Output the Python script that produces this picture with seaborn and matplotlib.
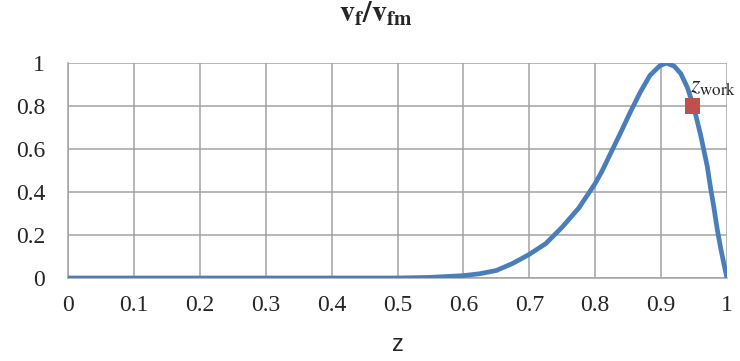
import matplotlib

matplotlib.use("Agg")
import matplotlib.pyplot as plt
import pandas as pd
import seaborn as sns

# curve values
z_vals = [0, 0.1, 0.2, 0.3, 0.4, 0.5, 0.55, 0.6, 0.625, 0.65, 0.675, 0.7,
          0.725, 0.75, 0.775, 0.8, 0.81, 0.825, 0.84, 0.853, 0.868, 0.883,
          0.898, 0.908, 0.92, 0.93, 0.94, 0.95, 0.96, 0.97, 0.975, 0.98,
          0.985, 0.99, 0.995, 1.0]
v_vals = [0, 0, 0, 0, 0, 0.0, 0.003, 0.011, 0.02, 0.035, 0.068, 0.11,
          0.16, 0.237, 0.325, 0.44, 0.495, 0.59, 0.685, 0.77, 0.862, 0.942,
          0.987, 1.0, 0.985, 0.95, 0.885, 0.79, 0.665, 0.52, 0.42, 0.33,
          0.23, 0.145, 0.07, 0.0]

z_work = [0.948]
v_work = [0.80]

x_ticks = [0, 0.1, 0.2, 0.3, 0.4, 0.5, 0.6, 0.7, 0.8, 0.9, 1]
x_labels = ["0", "0.1", "0.2", "0.3", "0.4", "0.5", "0.6", "0.7", "0.8", "0.9", "1"]
y_ticks = [0, 0.2, 0.4, 0.6, 0.8, 1]
y_labels = ["0", "0.2", "0.4", "0.6", "0.8", "1"]

sns.set_style("white")
plt.rcParams["font.family"] = ["Liberation Serif", "DejaVu Serif"]
plt.rcParams["mathtext.fontset"] = "stix"

grid_col = "#a3a3a3"
df = pd.DataFrame({"z": z_vals, "v": v_vals})
work = pd.DataFrame({"z": z_work, "v": v_work})

fig = plt.figure(figsize=(7.4, 3.61), dpi=100)
ax = fig.add_axes([68 / 740, 83 / 361, 659 / 740, 215 / 361])

sns.lineplot(data=df, x="z", y="v", ax=ax, color="#4a7ebb", linewidth=3.4,
             zorder=3)
sns.scatterplot(data=work, x="z", y="v", ax=ax, marker="s", s=120,
                color="#c0504d", edgecolor="none", zorder=4)
ax.text(z_work[0] - 0.004, 0.862, r"$z_{\mathrm{work}}$", fontsize=17.5,
        va="baseline", ha="left", zorder=5, clip_on=False)

ax.set_xlim(0, 1)
ax.set_ylim(0, 1)
ax.set_xticks(x_ticks)
ax.set_xticklabels(x_labels)
ax.set_yticks(y_ticks)
ax.set_yticklabels(y_labels)
ax.tick_params(axis="both", labelsize=17, length=5.5, width=1.1,
               color=grid_col, direction="out")
ax.tick_params(axis="y", pad=11)
ax.tick_params(axis="x", pad=7)
ax.grid(True, color=grid_col, linewidth=1.1)
ax.set_axisbelow(True)
for side in ["top", "right"]:
    ax.spines[side].set_visible(False)
for side in ["left", "bottom"]:
    ax.spines[side].set_color(grid_col)
    ax.spines[side].set_linewidth(1.1)

ax.set_ylabel("")
ax.set_xlabel("z", fontsize=17, family=["Liberation Sans", "DejaVu Sans"],
              labelpad=13)

fig.text(0.508, 0.939, r"$\mathbf{v_f/v_{fm}}$", fontsize=21.5, ha="center",
         va="baseline")

fig.savefig("out.png", dpi=100)
